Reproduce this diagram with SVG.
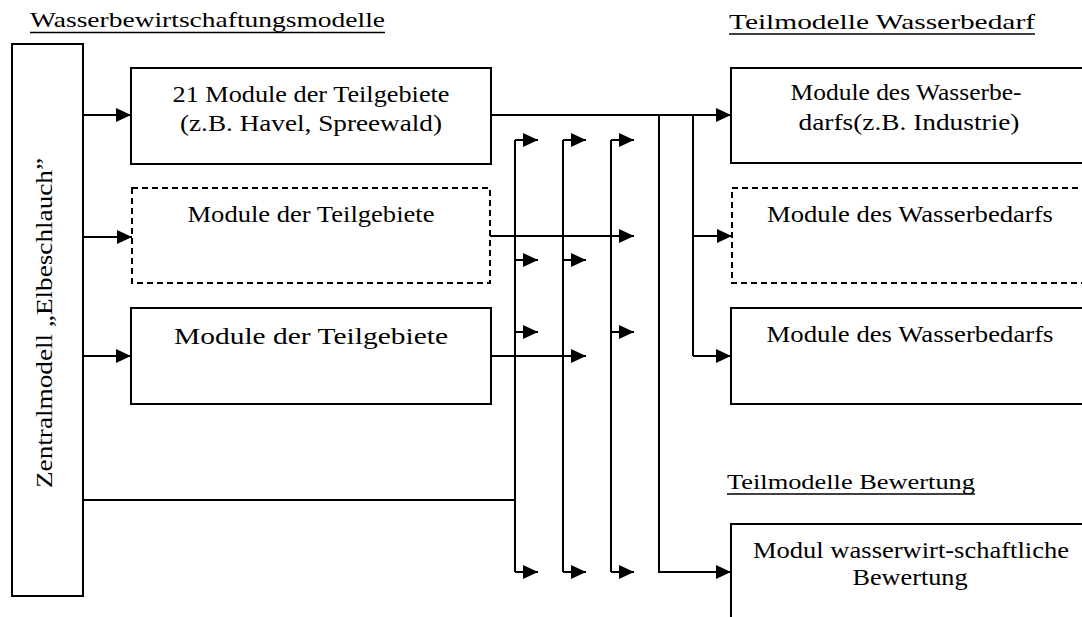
<svg xmlns="http://www.w3.org/2000/svg" width="1082" height="617" viewBox="0 0 1082 617">
<style>
  .box { fill: #fff; stroke: #000; stroke-width: 2; }
  .dash { fill: #fff; stroke: #000; stroke-width: 2; stroke-dasharray: 6 4; }
  .t { font-family: "Liberation Serif", "DejaVu Serif", serif; font-size: 22.5px; fill: #000; text-anchor: middle; }
  .title { font-family: "Liberation Serif", "DejaVu Serif", serif; font-size: 22px; fill: #000; }
  .ul { stroke: #000; stroke-width: 1.5; }
  .c { fill: none; stroke: #000; stroke-width: 2; }
  .a { fill: none; stroke: #000; stroke-width: 2; marker-end: url(#ah); }
</style>
<defs>
  <marker id="ah" markerUnits="userSpaceOnUse" markerWidth="16" markerHeight="14" refX="15" refY="7" orient="auto">
    <path d="M0,0 L15,7 L0,14 z" fill="#000"/>
  </marker>
</defs>
<rect width="1082" height="617" fill="#fff"/>

<g id="titles">
  <text class="title" x="30" y="27" textLength="355" lengthAdjust="spacingAndGlyphs">Wasserbewirtschaftungsmodelle</text>
  <line class="ul" x1="30" y1="32.5" x2="385" y2="32.5"/>
  <text class="title" x="729" y="29" textLength="306" lengthAdjust="spacingAndGlyphs">Teilmodelle Wasserbedarf</text>
  <line class="ul" x1="729" y1="34" x2="1035" y2="34"/>
  <text class="title" x="727" y="489" textLength="248" lengthAdjust="spacingAndGlyphs">Teilmodelle Bewertung</text>
  <line class="ul" x1="727" y1="494" x2="975" y2="494"/>
</g>

<g id="zentralmodell">
  <rect class="box" x="12" y="44" width="71" height="552"/>
  <text class="t" transform="translate(52,323) rotate(-90)" font-size="23" textLength="330" lengthAdjust="spacingAndGlyphs">Zentralmodell „Elbeschlauch”</text>
</g>

<g id="teilgebiete1">
  <rect class="box" x="131" y="68" width="360" height="96"/>
  <text class="t" x="311" y="102" textLength="277" lengthAdjust="spacingAndGlyphs">21 Module der Teilgebiete</text>
  <text class="t" x="311" y="131" textLength="262" lengthAdjust="spacingAndGlyphs">(z.B. Havel, Spreewald)</text>
</g>

<g id="teilgebiete2">
  <rect class="dash" x="132" y="188" width="358" height="95"/>
  <text class="t" x="311" y="222" textLength="247" lengthAdjust="spacingAndGlyphs">Module der Teilgebiete</text>
</g>

<g id="teilgebiete3">
  <rect class="box" x="131" y="308" width="360" height="96"/>
  <text class="t" x="311" y="344" font-size="26" textLength="274" lengthAdjust="spacingAndGlyphs">Module der Teilgebiete</text>
</g>

<g id="wasserbedarf1">
  <rect class="box" x="731" y="68" width="360" height="95"/>
  <text class="t" x="906" y="100" textLength="231" lengthAdjust="spacingAndGlyphs">Module des Wasserbe-</text>
  <text class="t" x="909" y="130" textLength="221" lengthAdjust="spacingAndGlyphs">darfs(z.B. Industrie)</text>
</g>

<g id="wasserbedarf2">
  <rect class="dash" x="732" y="188" width="360" height="95"/>
  <text class="t" x="910" y="222" textLength="286" lengthAdjust="spacingAndGlyphs">Module des Wasserbedarfs</text>
</g>

<g id="wasserbedarf3">
  <rect class="box" x="731" y="308" width="360" height="96"/>
  <text class="t" x="910" y="342" textLength="287" lengthAdjust="spacingAndGlyphs">Module des Wasserbedarfs</text>
</g>

<g id="bewertung">
  <rect class="box" x="731" y="524" width="360" height="110"/>
  <text class="t" x="911" y="558" textLength="316" lengthAdjust="spacingAndGlyphs">Modul wasserwirt-schaftliche</text>
  <text class="t" x="910" y="585" textLength="115" lengthAdjust="spacingAndGlyphs">Bewertung</text>
</g>

<g id="connectors">
  <path class="a" d="M83,115 H131"/>
  <path class="a" d="M83,237 H132"/>
  <path class="a" d="M83,356 H131"/>
  <path class="c" d="M83,500 H515"/>
  <path class="a" d="M491,115 H731"/>
  <path class="a" d="M659,115 V572 H731"/>
  <path class="c" d="M693,115 V356"/>
  <path class="a" d="M693,236 H732"/>
  <path class="a" d="M693,356 H731"/>
  <path class="a" d="M490,236 H634"/>
  <path class="a" d="M491,356 H586"/>
  <path class="c" d="M515,140 V572"/>
  <path class="a" d="M515,140 H538"/>
  <path class="a" d="M515,260 H538"/>
  <path class="a" d="M515,332 H538"/>
  <path class="a" d="M515,572 H538"/>
  <path class="c" d="M563,140 V572"/>
  <path class="a" d="M563,140 H586"/>
  <path class="a" d="M563,260 H586"/>
  <path class="a" d="M563,572 H586"/>
  <path class="c" d="M611,140 V572"/>
  <path class="a" d="M611,140 H634"/>
  <path class="a" d="M611,332 H634"/>
  <path class="a" d="M611,572 H634"/>
</g>
</svg>
